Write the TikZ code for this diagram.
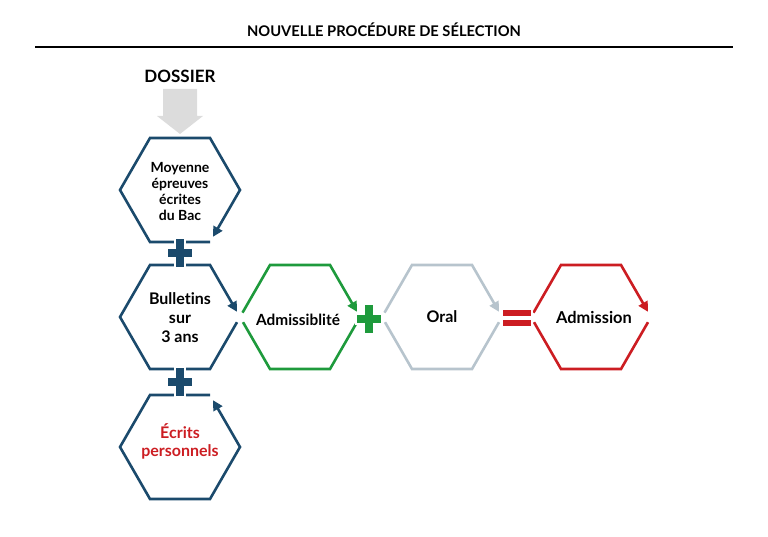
\documentclass[tikz,border=0pt]{standalone}
\usepackage{fontspec}
\setmainfont{Lato}[Ligatures=NoCommon]
\usetikzlibrary{arrows.meta,calc}

\definecolor{navy}{HTML}{1B4A6C}
\definecolor{leaf}{HTML}{1E9A3C}
\definecolor{mist}{HTML}{B7C4CD}
\definecolor{crimson}{HTML}{CC1D22}
\definecolor{paleshade}{HTML}{DCDCDC}

% corners of a flat-topped hexagon (radius 60) centred at (#2,#3)
\newcommand\hexcorners[3]{%
  \coordinate (#1-0) at (#2+60,#3);
  \coordinate (#1-1) at (#2+30,#3+52);
  \coordinate (#1-2) at (#2-30,#3+52);
  \coordinate (#1-3) at (#2-60,#3);
  \coordinate (#1-4) at (#2-30,#3-52);
  \coordinate (#1-5) at (#2+30,#3-52);
}

\tikzset{
  hexline/.style={draw=#1, line width=2.6pt, line join=miter,
    -{Triangle[length=10pt,width=10pt]}, shorten >=6pt},
  hexplain/.style={draw=#1, line width=2.6pt, line join=miter},
  label/.style 2 args={font=\bfseries\fontsize{#1}{#2}\selectfont, align=center, text=black},
  plussign/.pic={
    \fill[white] (-14,-6) rectangle (14,6);
    \fill[white] (-6,-16) rectangle (6,16);
    \fill[pic actions] (-12,-3.8) rectangle (12,3.8);
    \fill[pic actions] (-3.8,-14) rectangle (3.8,14);
  },
}

\begin{document}
\begin{tikzpicture}[x=1pt,y=-1pt]
\useasboundingbox (0,0) rectangle (768,537);

% heading
\node[label={14.7}{16}] (title) at (384,30) {NOUVELLE PROCÉDURE DE SÉLECTION};
\draw[line width=2.4pt] (35,47) coordinate (rulestart) -- (733,47) coordinate (ruleend);

% file entry
\node[label={17}{18}] (dossier) at (180,76) {DOSSIER};
\fill[paleshade] (163,89) -- (197,89) -- (197,116) -- (203,116) -- (180,134)
  -- (157,116) -- (163,116) -- cycle;

\hexcorners{moy}{180}{190}
\hexcorners{bul}{180}{317}
\hexcorners{ecr}{180}{447}
\hexcorners{adm}{300}{317}
\hexcorners{ora}{442}{317}
\hexcorners{fin}{591}{317}

% left column
\draw[hexline=navy] (moy-1) -- (moy-2) -- (moy-3) -- (moy-4) -- (moy-5) -- (moy-0) -- (moy-1);
\draw[hexline=navy] ($(bul-0)!6pt!(bul-1)$) -- (bul-1) -- (bul-2) -- (bul-3) -- (bul-4) -- (bul-5) -- (bul-0);
\draw[hexline=navy] (ecr-5) -- (ecr-4) -- (ecr-3) -- (ecr-2) -- (ecr-1) -- (ecr-0) -- (ecr-5);

% row of results
\draw[hexline=leaf] ($(adm-3)!5pt!(adm-4)$) -- (adm-4) -- (adm-5) -- (adm-0);
\draw[hexplain=leaf] ($(adm-0)!6pt!(adm-1)$) -- (adm-1) -- (adm-2) -- ($(adm-3)!6pt!(adm-2)$);
\draw[hexline=mist] ($(ora-3)!5pt!(ora-4)$) -- (ora-4) -- (ora-5) -- (ora-0);
\draw[hexplain=mist] ($(ora-0)!6pt!(ora-1)$) -- (ora-1) -- (ora-2) -- ($(ora-3)!6pt!(ora-2)$);
\draw[hexline=crimson] ($(fin-3)!5pt!(fin-4)$) -- (fin-4) -- (fin-5) -- (fin-0);
\draw[hexplain=crimson] ($(fin-0)!6pt!(fin-1)$) -- (fin-1) -- (fin-2) -- ($(fin-3)!6pt!(fin-2)$);

% operators
\pic[fill=navy] (plusA) at (180,253) {plussign};
\pic[fill=navy] (plusB) at (180,382) {plussign};
\pic[fill=leaf] (plusC) at (369,319) {plussign};
\fill[white] (501,307) rectangle (533,329);
\fill[crimson] (503,309.5) rectangle (531,315.5);
\fill[crimson] (503,320) rectangle (531,326);

% labels
\node[label={14}{16}] (moyenne) at (180,191) {Moyenne\\épreuves\\écrites\\du Bac};
\node[label={16}{19}] (bulletins) at (180,318) {Bulletins\\sur\\3 ans};
\node[label={16}{18}, text=crimson] (ecrits) at (180,441) {Écrits\\personnels};
\node[label={15.4}{16}] (admissib) at (298,320) {Admissiblité};
\node[label={16}{16}] (oral) at (442,317) {Oral};
\node[label={16.4}{16}] (admission) at (594,317) {Admission};
\end{tikzpicture}
\end{document}
